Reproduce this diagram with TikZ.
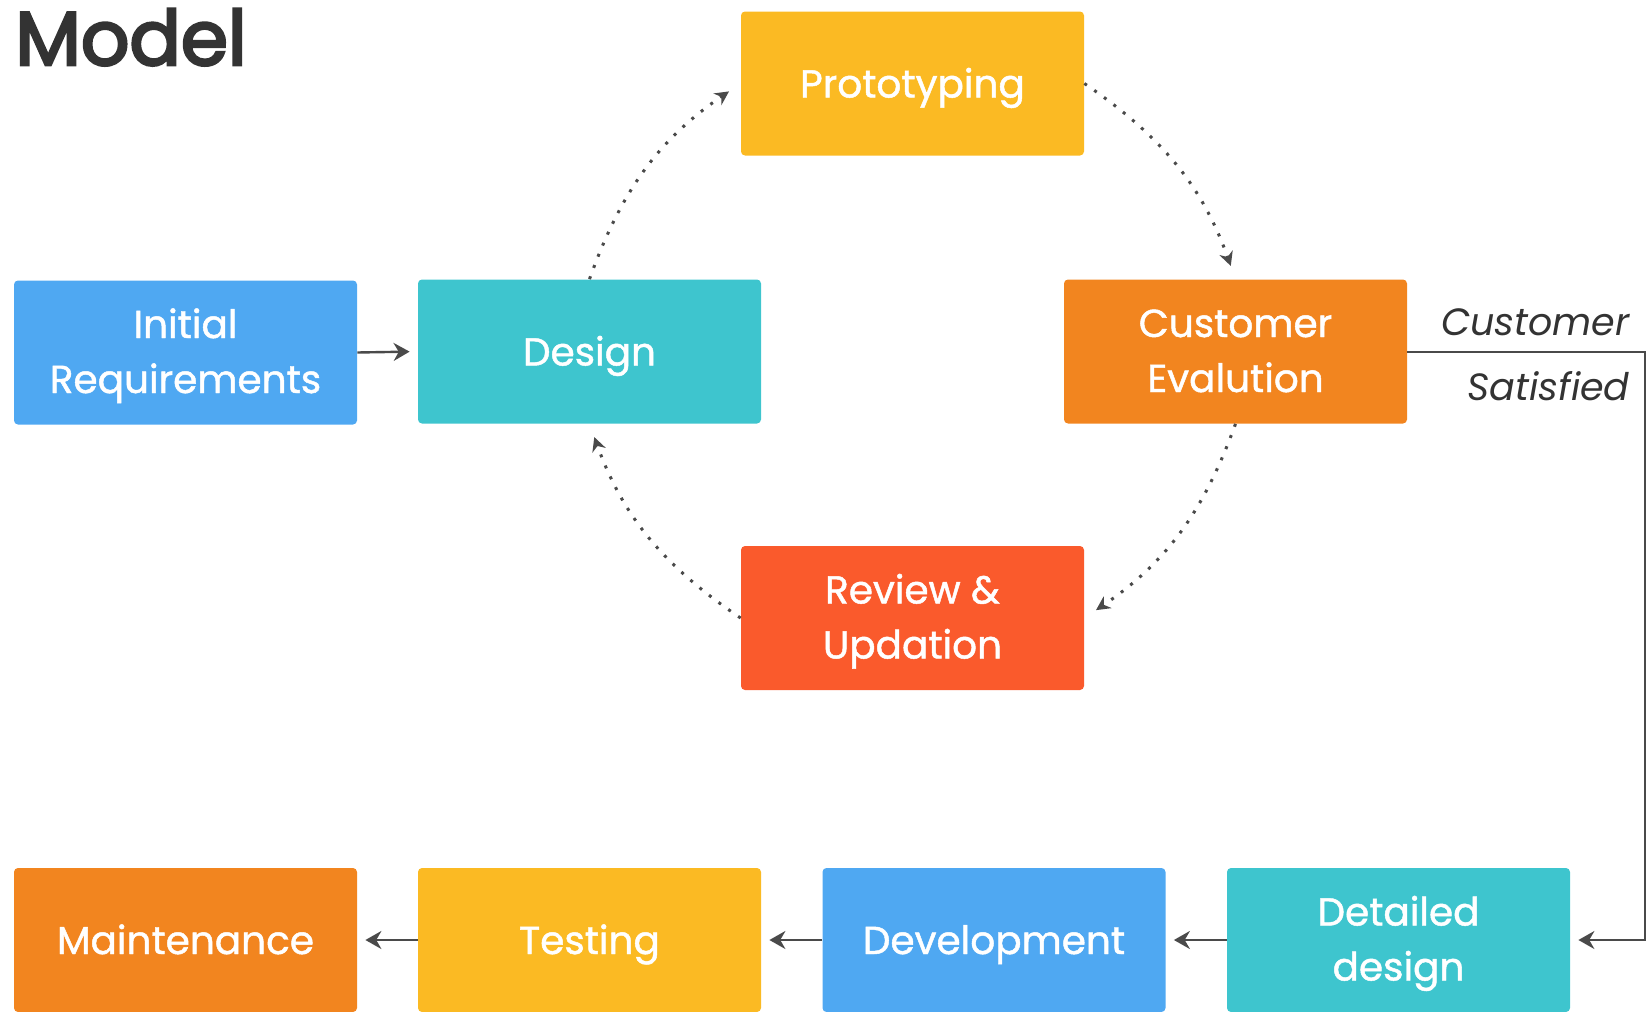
\documentclass[tikz,border=0pt]{standalone}
\usepackage{fontspec}
\setmainfont{Poppins}
\newfontfamily\boxfont{Poppins}[FakeBold=1.2]
\newfontfamily\titlefont{Poppins}[FakeBold=3.5]
\usetikzlibrary{arrows.meta}
\definecolor{cblue}{HTML}{4FA8F2}
\definecolor{cteal}{HTML}{3EC5CE}
\definecolor{cyellow}{HTML}{FBBA23}
\definecolor{corange}{HTML}{F2851F}
\definecolor{cred}{HTML}{FA5A2C}
\definecolor{cline}{HTML}{4A4A4A}
\definecolor{ctitle}{HTML}{333333}
\newcommand{\toprule}{\rule{0pt}{20pt}}
\begin{document}
\begin{tikzpicture}[x=0.5pt,y=-0.5pt,
 box/.style={rounded corners=2pt, minimum width=171.5pt, minimum height=72pt, text=white,
   font=\boxfont\fontsize{19.5}{27.5}\selectfont, align=center, inner sep=0pt,
   execute at begin node={\rule{0pt}{21pt}}, execute at end node={\rule[-7pt]{0pt}{0pt}}},
 solidarrow/.style={draw=cline, line width=1.2pt, -{Stealth[length=8pt,width=9pt]}, shorten >=4pt},
 dotarrow/.style={draw=cline, line width=1.5pt, dash pattern=on 1.5pt off 4.5pt,
   -{Stealth[length=7pt,width=7pt]}, shorten >=7pt, bend left=18},
 lbl/.style={font=\fontsize{19}{24}\selectfont\itshape, text=ctitle, inner sep=0pt}
]
\useasboundingbox (0,0) rectangle (1650,1012);

\node[anchor=base west, font=\titlefont\fontsize{38}{40}\selectfont, text=ctitle, inner sep=0pt] (title) at (15,65) {Model};

\node[box, fill=cblue] (init) at (185.5,352.5) {\toprule Initial\\Requirements};
\node[box, fill=cteal] (design) at (589.5,351.5) {Design};
\node[box, fill=cyellow] (proto) at (912.5,83.5) {Prototyping};
\node[box, fill=corange] (cust) at (1235.5,351.5) {\toprule Customer\\Evalution};
\node[box, fill=cred] (review) at (912.5,618) {\toprule Review \&\\Updation};

\node[box, fill=corange] (maint) at (185.5,940) {Maintenance};
\node[box, fill=cyellow] (test) at (589.5,940) {Testing};
\node[box, fill=cblue] (dev) at (994,940) {Development};
\node[box, fill=cteal] (det) at (1398.5,940) {\toprule Detailed\\design};

\coordinate (rail) at (1645,0);

\draw[solidarrow] (init.east) -- (design.west);
\draw[dotarrow] (design.north) to (proto.west);
\draw[dotarrow] (proto.east) to (cust.north);
\draw[dotarrow] (cust.south) to (review.east);
\draw[dotarrow] (review.west) to (design.south);

\draw[solidarrow, line width=1pt] (cust.east) -- (cust.east -| rail) |- (det.east);
\draw[solidarrow] (det.west) -- (dev.east);
\draw[solidarrow] (dev.west) -- (test.east);
\draw[solidarrow] (test.west) -- (maint.east);

\node[lbl, anchor=base east] (cs1) at (1630,335) {Customer};
\node[lbl, anchor=base east] (cs2) at (1630,400) {Satisfied};
\end{tikzpicture}
\end{document}
